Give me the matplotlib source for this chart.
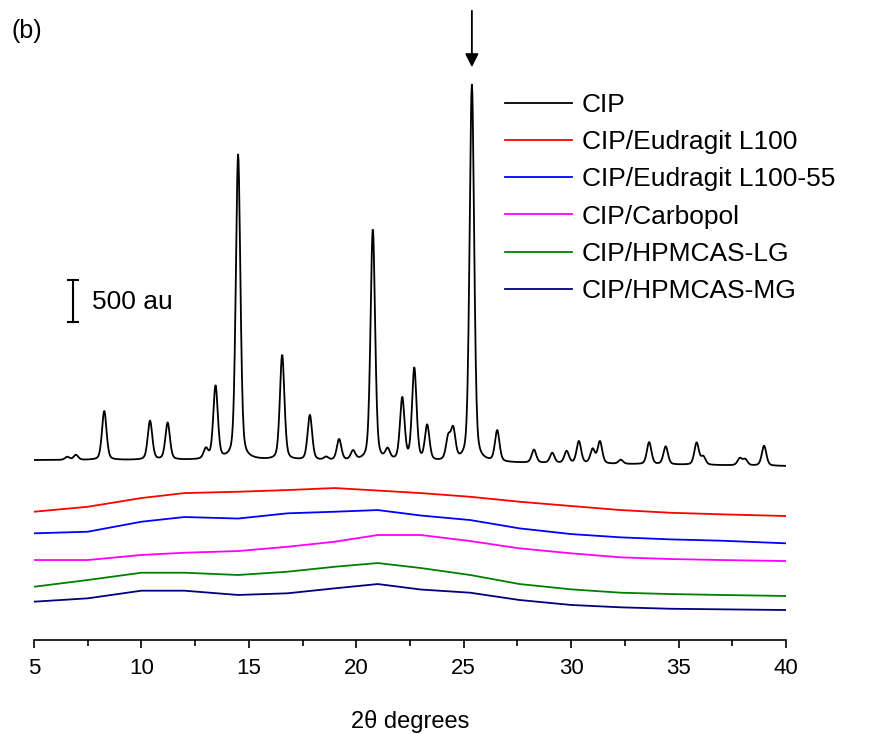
import numpy as np
import matplotlib
matplotlib.use('Agg')
import matplotlib.pyplot as plt

plt.rcParams['font.family'] = ['Liberation Sans', 'DejaVu Sans']

# CIP crystalline pattern: peak positions (2theta), heights (au) above baseline
cip_pos = [6.55, 6.95, 8.27, 10.40, 11.22, 13.0, 13.45, 14.5, 16.55, 17.84,
           18.6, 19.2, 19.85, 20.77, 21.46, 22.14, 22.70, 23.3, 24.28, 24.51,
           25.38, 26.56, 28.27, 29.12, 29.79, 30.36, 31.0, 31.34, 32.31, 33.63,
           34.4, 35.84, 36.15, 37.85, 38.1, 38.98]
cip_height = [36, 60, 583, 464, 440, 119, 869, 3630, 1250, 536,
              36, 250, 107, 2760, 119, 738, 1095, 417, 262, 357,
              4490, 369, 155, 119, 143, 262, 167, 262, 48, 262,
              214, 262, 95, 83, 71, 238]
cip_base_x = [5, 15, 25, 40]
cip_base_y = [2142, 2142, 2115, 2071]

amor_x = [5, 7.5, 10, 12, 14.5, 16.8, 19, 21, 23, 25.3, 27.6, 30, 32.3, 34.6, 37, 40]
eud_l100 = [1527, 1586, 1690, 1749, 1765, 1785, 1809, 1779, 1749, 1705, 1646, 1595, 1547, 1515, 1496, 1476]
eud_l100_55 = [1270, 1289, 1408, 1464, 1446, 1508, 1527, 1547, 1482, 1428, 1329, 1261, 1222, 1198, 1182, 1151]
carbopol = [952, 952, 1012, 1039, 1059, 1110, 1170, 1250, 1250, 1178, 1091, 1032, 984, 964, 952, 940]
hpmcas_lg = [634, 714, 801, 801, 774, 813, 872, 916, 857, 774, 666, 603, 563, 547, 536, 524]
hpmcas_mg = [456, 496, 587, 587, 536, 556, 615, 666, 601, 563, 476, 417, 389, 372, 365, 357]

labels = ['CIP', 'CIP/Eudragit L100', 'CIP/Eudragit L100-55', 'CIP/Carbopol',
          'CIP/HPMCAS-LG', 'CIP/HPMCAS-MG']
colors = ['black', '#ff0000', '#0000ff', '#ff00ff', '#008000', '#000080']

W, H = 870, 734
px = 500 / 42.0  # au per pixel

fig = plt.figure(figsize=(W / 100, H / 100), dpi=100)
ax = fig.add_axes([34 / W, 1 - 640 / H, (786 - 34) / W, 640 / H])

# build CIP trace from the peak list (pseudo-Voigt profiles)
x = np.arange(5, 40.001, 0.02)
fw = 0.25
y = np.interp(x, cip_base_x, cip_base_y)
for p, h in zip(cip_pos, cip_height):
    d = (x - p) / (fw / 2)
    y = y + h * (0.65 * np.exp(-np.log(2) * d ** 2) + 0.35 / (1 + d ** 2))
ax.plot(x, y, color=colors[0], lw=1.3, label=labels[0])

for vals, lab, c in zip([eud_l100, eud_l100_55, carbopol, hpmcas_lg, hpmcas_mg],
                        labels[1:], colors[1:]):
    ax.plot(amor_x, vals, color=c, lw=1.3, label=lab)

ax.set_xlim(5, 40)
ax.set_ylim(0, 640 * px)
for s in ['left', 'top', 'right']:
    ax.spines[s].set_visible(False)
ax.spines['bottom'].set_linewidth(1.2)
ax.set_yticks([])
ax.set_xticks(np.arange(5, 41, 5))
ax.set_xticks(np.arange(7.5, 40, 5), minor=True)
ax.tick_params(axis='x', which='major', direction='out', length=6, width=1.2, pad=7)
ax.tick_params(axis='x', which='minor', direction='out', length=4, width=1.2)
for t in ax.get_xticklabels():
    t.set_fontsize(16)
ax.set_xlabel('2θ degrees', fontsize=17, labelpad=22)

# scale bar
sx = 6.81
y0 = (640 - 322) * px
ax.plot([sx, sx], [y0, y0 + 500], color='black', lw=1.5, clip_on=False)
ax.plot([sx, sx], [y0, y0 + 500], ls='none', marker='_', ms=8, mew=1.5, color='black', clip_on=False)
ax.text(7.7, (640 - 302) * px, '500 au', fontsize=19, va='center', ha='left')

# arrow over the main peak
ax.annotate('', xy=(25.38, (640 - 70) * px), xytext=(25.38, (640 - 8) * px),
            arrowprops=dict(arrowstyle='-|>', color='black', lw=1.3,
                            mutation_scale=20), annotation_clip=False)

fig.text(12 / W, 1 - 31 / H, '(b)', fontsize=18, va='center', ha='left')

ax.legend(loc='upper left', bbox_to_anchor=(505 / W, 1 - 93 / H),
          bbox_transform=fig.transFigure, frameon=False, fontsize=19,
          handlelength=2.55, handletextpad=0.35, labelspacing=0.5,
          borderpad=0, borderaxespad=0)

fig.savefig('out.png', dpi=100)
